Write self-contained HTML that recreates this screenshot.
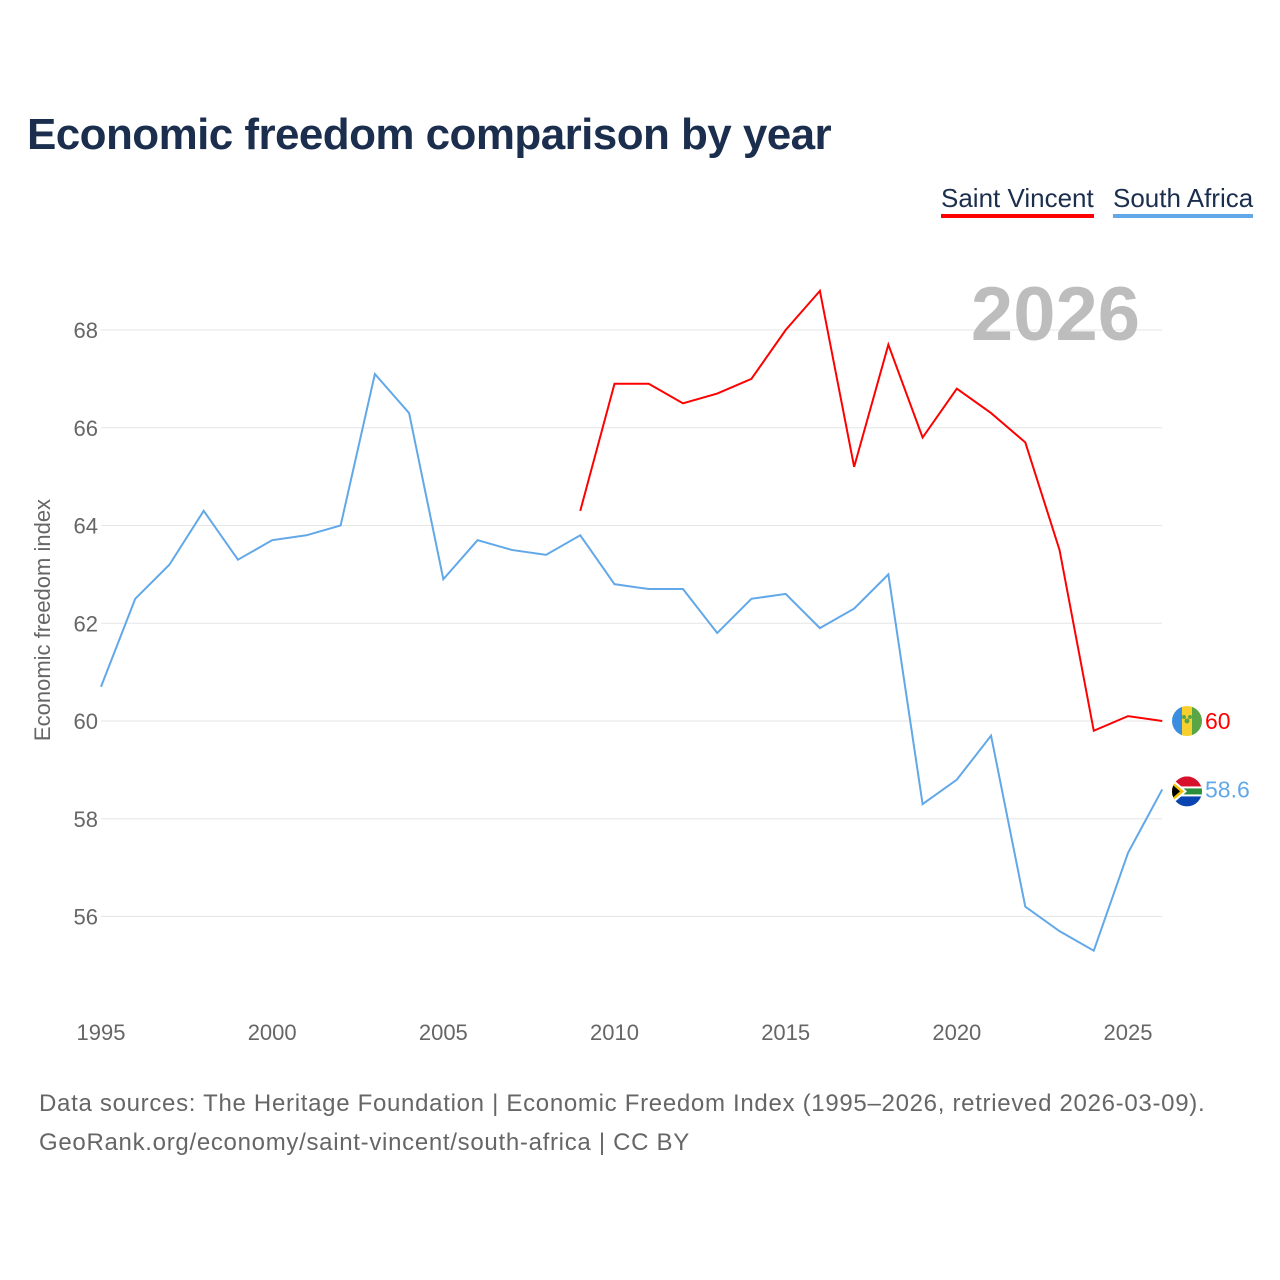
<!DOCTYPE html>
<html><head><meta charset="utf-8"><style>
body{margin:0;background:#fff;font-family:"Liberation Sans",sans-serif}
#wrap{position:relative;width:1280px;height:1280px;overflow:hidden}
.t{position:absolute;white-space:nowrap}
</style></head><body>
<div id="wrap">
<div class="t" style="left:27px;top:110px;font-size:44px;font-weight:bold;color:#1b2e4e;letter-spacing:-0.57px">Economic freedom comparison by year</div>
<div class="t" style="left:941px;top:183px;font-size:26px;color:#1b2e4e;letter-spacing:0px;border-bottom:4px solid #f00;padding-bottom:0px">Saint Vincent</div>
<div class="t" style="left:1113px;top:183px;font-size:26px;color:#1b2e4e;letter-spacing:0px;border-bottom:4px solid #62a8e8;padding-bottom:0px">South Africa</div>
<svg id="chart" width="1280" height="1280" style="position:absolute;left:0;top:0"></svg>
<div class="t" style="left:39px;top:1084px;font-size:24px;color:#666;line-height:39px;letter-spacing:0.7px">Data sources: The Heritage Foundation | Economic Freedom Index (1995–2026, retrieved 2026-03-09).<br>GeoRank.org/economy/saint-vincent/south-africa | CC BY</div>
</div>
<script>
const years=[1995,1996,1997,1998,1999,2000,2001,2002,2003,2004,2005,2006,2007,2008,2009,2010,2011,2012,2013,2014,2015,2016,2017,2018,2019,2020,2021,2022,2023,2024,2025,2026];
const southAfrica=[60.7,62.5,63.2,64.3,63.3,63.7,63.8,64.0,67.1,66.3,62.9,63.7,63.5,63.4,63.8,62.8,62.7,62.7,61.8,62.5,62.6,61.9,62.3,63.0,58.3,58.8,59.7,56.2,55.7,55.3,57.3,58.6];
const svYears=[2009,2010,2011,2012,2013,2014,2015,2016,2017,2018,2019,2020,2021,2022,2023,2024,2025,2026];
const saintVincent=[64.3,66.9,66.9,66.5,66.7,67.0,68.0,68.8,65.2,67.7,65.8,66.8,66.3,65.7,63.5,59.8,60.1,60.0];
const yTicks=[56,58,60,62,64,66,68];
const xTicks=[1995,2000,2005,2010,2015,2020,2025];
const NS="http://www.w3.org/2000/svg";
const svg=document.getElementById('chart');
const X=y=>101+(y-1995)*(1128-101)/30;
const Y=v=>721-(v-60)*(721-330)/8;
function mk(t,a){const e=document.createElementNS(NS,t);for(const k in a)e.setAttribute(k,a[k]);svg.appendChild(e);return e;}
yTicks.forEach(v=>{
 const g=mk('line',{x1:101,x2:1162,y1:Y(v),y2:Y(v),stroke:'#e6e6e6','stroke-width':1});
 
 
 const t=mk('text',{x:98,y:Y(v)+8,'text-anchor':'end','font-size':22,fill:'#666'});t.textContent=v;
 
 
});
xTicks.forEach(y=>{
 const t=mk('text',{x:X(y),y:1040,'text-anchor':'middle','font-size':22,fill:'#666'});t.textContent=y;
 
 
});
const yt=mk('text',{transform:'translate(50,620) rotate(-90)','text-anchor':'middle','font-size':22,fill:'#666'});yt.textContent='Economic freedom index';


const yr=mk('text',{x:1140,y:340,'text-anchor':'end','font-size':76,'font-weight':'bold',fill:'#bdbdbd'});yr.textContent='2026';


const p1=mk('polyline',{points:years.map((y,i)=>X(y)+','+Y(southAfrica[i])).join(' '),fill:'none',stroke:'#62a8e8','stroke-width':2});


const p2=mk('polyline',{points:svYears.map((y,i)=>X(y)+','+Y(saintVincent[i])).join(' '),fill:'none',stroke:'#f00','stroke-width':2});


const svv=saintVincent[saintVincent.length-1], sav=southAfrica[southAfrica.length-1];
let cy=Y(svv);
const defs=mk('defs',{});
defs.innerHTML='<clipPath id="c1"><circle cx="1187" cy="'+cy+'" r="15"/></clipPath><clipPath id="c2"><circle cx="1187" cy="'+(Y(sav)+2)+'" r="15"/></clipPath>';
const f1=mk('g',{'clip-path':'url(#c1)'});


f1.innerHTML='<rect x="1172" y="'+(cy-15)+'" width="10" height="30" fill="#3b8de0"/><rect x="1182" y="'+(cy-15)+'" width="10" height="30" fill="#f6d02c"/><rect x="1192" y="'+(cy-15)+'" width="10" height="30" fill="#5aa646"/><circle cx="1187" cy="'+cy+'" r="2.5" fill="#5aa646"/><circle cx="1184" cy="'+(cy-4)+'" r="2" fill="#5aa646"/><circle cx="1190" cy="'+(cy-4)+'" r="2" fill="#5aa646"/>';
const c2=Y(sav)+2;
const f2=mk('g',{'clip-path':'url(#c2)'});


f2.innerHTML='<rect x="1172" y="'+(c2-15)+'" width="30" height="15" fill="#d8102c"/><rect x="1172" y="'+c2+'" width="30" height="15" fill="#0a44b0"/><rect x="1172" y="'+(c2-5)+'" width="30" height="10" fill="#fff"/><rect x="1172" y="'+(c2-3)+'" width="30" height="6" fill="#2a8f3a"/><polygon points="1172,'+(c2-13)+' 1187,'+c2+' 1172,'+(c2+13)+'" fill="#fff"/><polygon points="1172,'+(c2-10)+' 1184,'+c2+' 1172,'+(c2+10)+'" fill="#f5c000"/><polygon points="1172,'+(c2-7)+' 1180,'+c2+' 1172,'+(c2+7)+'" fill="#000"/>';
const l1=mk('text',{x:1205,y:Y(svv)+8,'font-size':23,fill:'#f00'});l1.textContent=svv;


const l2=mk('text',{x:1205,y:Y(sav)+8,'font-size':23,fill:'#62a8e8'});l2.textContent=sav;


</script>
</body></html>
